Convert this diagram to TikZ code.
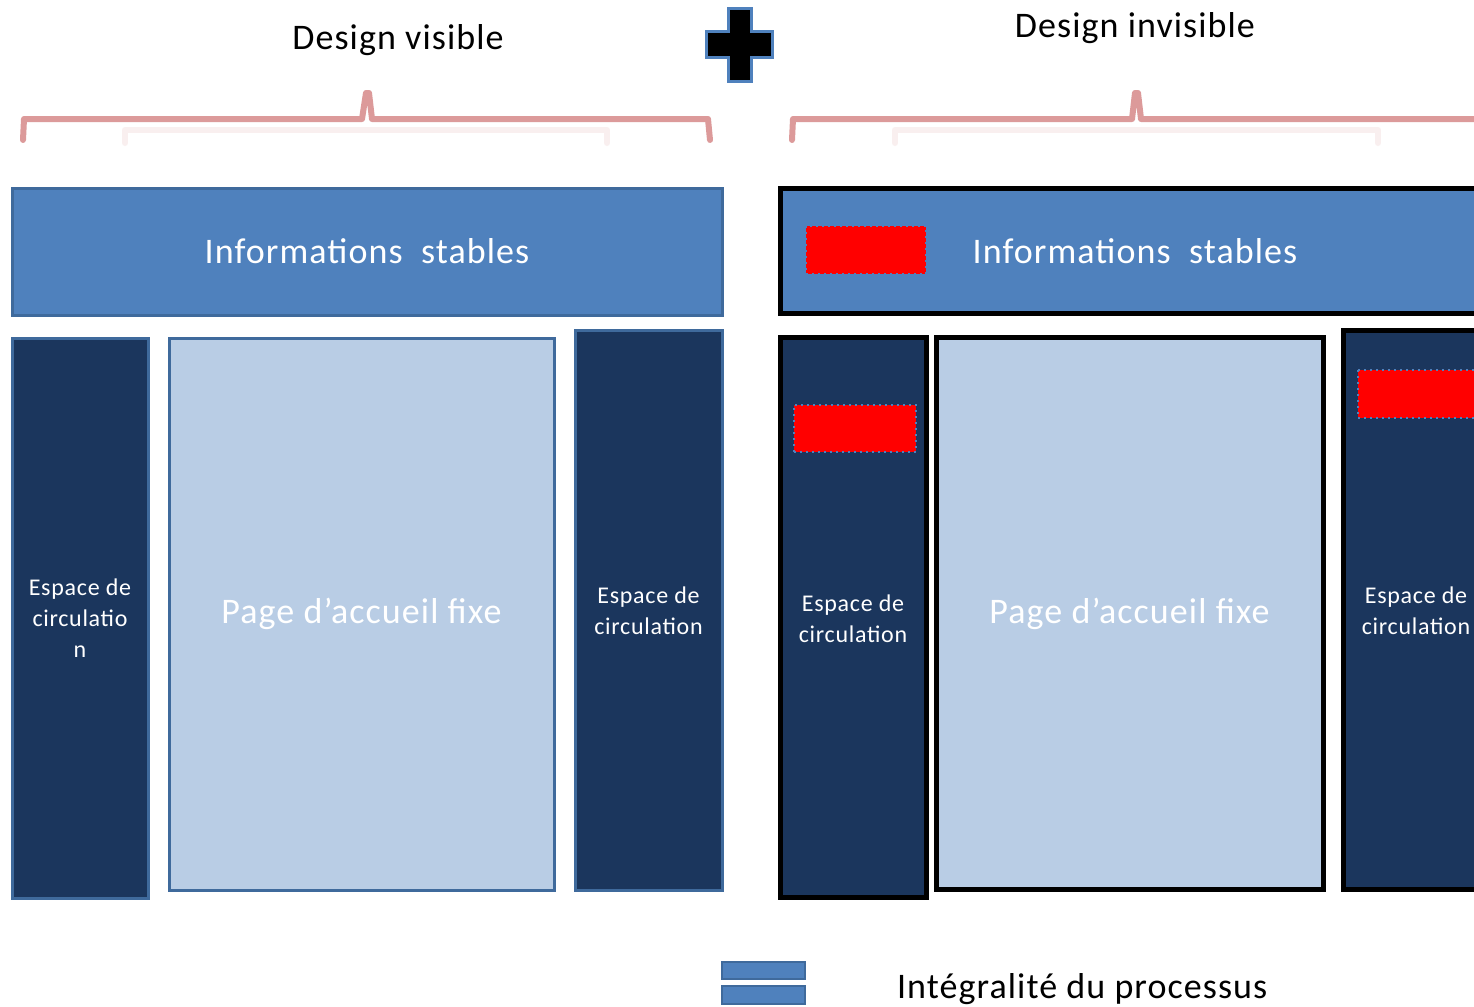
\documentclass[tikz,border=0pt]{standalone}
\usepackage{fontspec}
\setmainfont{Carlito}[LetterSpace=3]
\definecolor{midblue}{HTML}{4F81BD}
\definecolor{edgeblue}{HTML}{3F6A9C}
\definecolor{navy}{HTML}{1B365D}
\definecolor{paleblue}{HTML}{B9CDE5}
\definecolor{bracepink}{HTML}{DC9A9A}
\begin{document}
\begin{tikzpicture}[x=0.5pt,y=-0.5pt]
\tikzset{
  bigtxt/.style={font=\fontsize{18}{22}\selectfont},
  coltxt/.style={font=\fontsize{12}{15.5}\selectfont, text=white, align=center},
  bar/.style={fill=midblue},
  navycol/.style={fill=navy},
  pagebox/.style={fill=paleblue},
  lefedge/.style={draw=edgeblue, line width=1.5pt},
  rightedge/.style={draw=black, line width=2.5pt},
  redmark/.style={fill=red, draw=midblue, dotted, line width=1pt},
  bracemain/.style={draw=bracepink, line width=3pt, line cap=round, line join=round},
  braceghost/.style={draw=bracepink, opacity=0.15, line width=3pt, line cap=round, line join=round},
}
\clip (0,0) rectangle (1474,1007);
\fill[white] (0,0) rectangle (1474,1007);

% titles
\node[bigtxt] (tv) at (398,40) {Design visible};
\node[bigtxt] (ti) at (1135,28) {Design invisible};

% plus sign
\filldraw[fill=black, draw=midblue, line width=1.5pt]
  (728,8) -- (751,8) -- (751,31) -- (772,31) -- (772,57) -- (751,57) -- (751,81) -- (728,81)
  -- (728,57) -- (706,57) -- (706,31) -- (728,31) -- cycle;

% braces
\draw[braceghost] (125,143) -- (125,130) -- (607,130) -- (607,143);
\draw[bracemain] (23,140) -- (24,119) -- (362,119) -- (366,93) -- (369,93) -- (372,119) -- (708,119) -- (710,140);
\draw[braceghost] (895,143) -- (895,130) -- (1378,130) -- (1378,143);
\draw[bracemain] (792,140) -- (793,119) -- (1132,119) -- (1135,93) -- (1138,93) -- (1141,119) -- (1500,119);

% left panel
\node[bar, lefedge, minimum width=355pt, minimum height=63.5pt, inner sep=0pt, text=white, bigtxt] (lbar) at (367,251.5) {Informations\ \ stables};
\node[navycol, lefedge, minimum width=68pt, minimum height=280pt, inner sep=0pt] (lc1) at (80,618) {};
\node[coltxt] (lc1t) at (80,618) {Espace de\\circulatio\\n};
\node[pagebox, lefedge, minimum width=192.5pt, minimum height=276pt, inner sep=0pt] (lpg) at (361.5,614) {};
\node[bigtxt, text=white] (lpgt) at (361.5,614) {Page d’accueil fixe};
\node[navycol, lefedge, minimum width=73.5pt, minimum height=280pt, inner sep=0pt] (lc2) at (648.5,610) {};
\node[coltxt] (lc2t) at (648.5,611) {Espace de\\circulation};

% right panel
\draw[bar, rightedge] (780,188) rectangle (1490,313);
\node[bigtxt, text=white] (rbart) at (1135,251.5) {Informations\ \ stables};
\node[redmark, minimum width=60pt, minimum height=24pt, inner sep=0pt] (r1) at (866,250) {};

\node[navycol, rightedge, minimum width=73pt, minimum height=280pt, inner sep=0pt] (rc1) at (853,617) {};
\node[redmark, minimum width=61pt, minimum height=23.5pt, inner sep=0pt] (r2) at (855,428.5) {};
\node[coltxt] (rc1t) at (853,619) {Espace de\\circulation};

\node[pagebox, rightedge, minimum width=193.5pt, minimum height=276pt, inner sep=0pt] (rpg) at (1129.5,613) {};
\node[bigtxt, text=white] (rpgt) at (1129.5,614) {Page d’accueil fixe};

\draw[navycol, rightedge] (1343,330) rectangle (1500,889);
\draw[redmark] (1358,370) rectangle (1500,418);
\node[coltxt] (rc2t) at (1416,611) {Espace de\\circulation};

% legend
\node[fill=midblue, draw=edgeblue, line width=1pt, minimum width=41.5pt, minimum height=8.5pt, inner sep=0pt] (lg1) at (763.5,970.5) {};
\node[fill=midblue, draw=edgeblue, line width=1pt, minimum width=41.5pt, minimum height=9pt, inner sep=0pt] (lg2) at (763.5,995) {};
\node[bigtxt, anchor=west] (lgt) at (890,989) {Intégralité du processus};
\end{tikzpicture}
\end{document}
